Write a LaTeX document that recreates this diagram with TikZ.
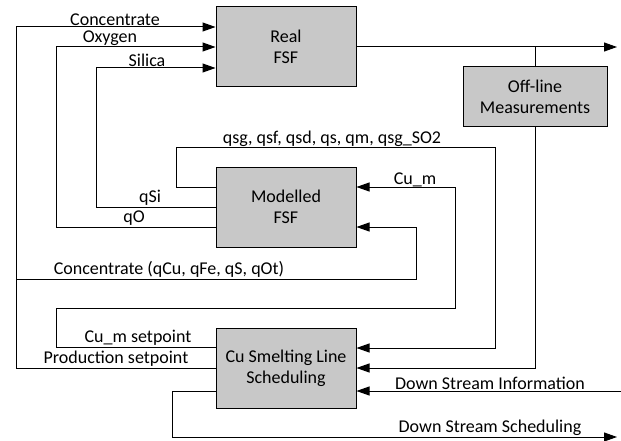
\documentclass[tikz,border=0pt]{standalone}
\usepackage{fontspec}
\setmainfont{Carlito}
\usepackage{tikz}
\usetikzlibrary{arrows.meta}
\definecolor{boxgray}{RGB}{200,200,200}
\tikzstyle{block}=[draw,fill=boxgray,line width=1pt,minimum width=140pt,minimum height=80pt,align=center,inner sep=2pt]
\tikzstyle{wire}=[line width=1pt]
\tikzstyle{flow}=[wire,-{Triangle[length=13pt,width=9pt]}]
\tikzstyle{lbl}=[anchor=south,inner sep=1pt]

\begin{document}
\begin{tikzpicture}[x=1pt,y=-1pt,font=\fontsize{18}{21}\selectfont]
	\useasboundingbox (0,0) rectangle (621,441);
	\node[block] (real)  at (286,47)  {Real\\FSF};
	\node[block,minimum width=144pt,minimum height=60pt] (meas) at (535,97) {Off-line\\Measurements};
	\node[block] (model) at (286,207) {Modelled\\FSF};
	\node[block] (sched) at (286,368) {Cu Smelting Line\\Scheduling};
	\coordinate (out)   at (617,47);
	\coordinate (split) at (16,279);
	\coordinate (dsin)  at (621,391);
	\coordinate (dsout) at (617,437);
	% feeds into the furnaces
	\draw[flow] (sched.west) -- (16,368) |- ([yshift=20pt]real.west);
	\draw[flow] (split) -- (416,279) |- ([yshift=-20pt]model.east);
	\draw[flow] ([yshift=-20pt]model.west) -- (56,227) |- (real.west);
	\draw[flow] (model.west) -- (96,207) |- ([yshift=-21pt]real.west);
	\draw[flow] (real.east) -- (out);
	% back to scheduling
	\draw[wire] (meas.north) -- (meas.north |- out);
	\draw[flow] (meas.south) |- (sched.east);
	\draw[flow] ([yshift=20pt]model.west) -- (176,187) |- (495,148) |- ([yshift=20pt]sched.east);
	\draw[flow] ([yshift=21pt]sched.west) -- (56,347) |- (455,308) |- ([yshift=20pt]model.east);
	\draw[flow] (dsin) -- ([yshift=-23pt]sched.east);
	\draw[flow] ([yshift=-23pt]sched.west) -- (172,391) |- (dsout);
	% labels
	\node[lbl] (conc)  at (115,27)  {Concentrate};
	\node[lbl] (oxy)   at (110,47)  {Oxygen};
	\node[lbl] (sil)   at (147,68)  {Silica};
	\node[lbl] (qsi)   at (150,207) {qSi};
	\node[lbl] (qo)    at (134,227) {qO};
	\node[lbl] (qsg)   at (332,148) {qsg, qsf, qsd, qs, qm, qsg\_SO2};
	\node[lbl] (cum)   at (415,188) {Cu\_m};
	\node[lbl] (concq) at (169,279) {Concentrate (qCu, qFe, qS, qOt)};
	\node[lbl] (cumsp) at (138,347) {Cu\_m setpoint};
	\node[lbl] (prod)  at (116,368) {Production setpoint};
	\node[lbl] (dsi)   at (490,391) {Down Stream Information};
	\node[lbl] (dss)   at (490,437) {Down Stream Scheduling};
\end{tikzpicture}
\end{document}
